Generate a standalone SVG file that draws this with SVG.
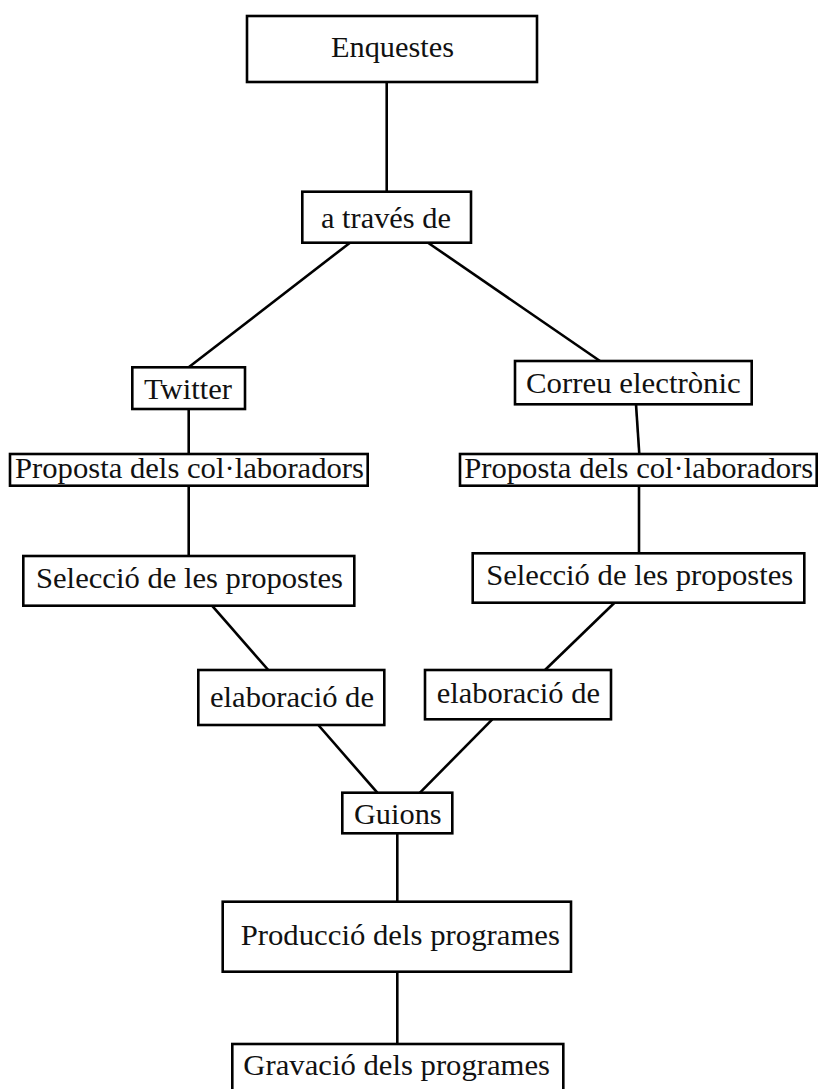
<svg xmlns="http://www.w3.org/2000/svg" width="818" height="1089" viewBox="0 0 818 1089">
<style>
  .box { fill: #fff; stroke: #000; stroke-width: 2.6; }
  .lbl { font-family: "Liberation Serif", "Times New Roman", serif; font-size: 30px; fill: #111; text-anchor: middle; }
  .con line { stroke: #000; stroke-width: 2.6; }
</style>
<rect width="818" height="1089" fill="#fff"/>
<g class="con" id="connectors">
  <line x1="386.7" y1="82" x2="386.7" y2="192"/>
  <line x1="350" y1="242.7" x2="189" y2="367"/>
  <line x1="428" y1="242.7" x2="600" y2="361"/>
  <line x1="188.7" y1="409" x2="188.7" y2="454"/>
  <line x1="636" y1="404.3" x2="639.3" y2="454"/>
  <line x1="188.7" y1="485.7" x2="188.7" y2="556"/>
  <line x1="639" y1="485.7" x2="639" y2="553.3"/>
  <line x1="212" y1="605.7" x2="268.3" y2="670"/>
  <line x1="614.5" y1="602.7" x2="545" y2="670"/>
  <line x1="318.3" y1="725" x2="377.3" y2="792.7"/>
  <line x1="492.3" y1="719.3" x2="420" y2="792.7"/>
  <line x1="397.3" y1="833.3" x2="397.3" y2="901.7"/>
  <line x1="397.3" y1="971.7" x2="397.3" y2="1044"/>
</g>
<g id="n-enquestes">
  <rect class="box" x="247" y="16" width="290" height="66"/>
  <text class="lbl" x="392.5" y="57" textLength="123" lengthAdjust="spacingAndGlyphs">Enquestes</text>
</g>
<g id="n-atraves">
  <rect class="box" x="302.3" y="191.7" width="168.7" height="51"/>
  <text class="lbl" x="386" y="227.7" textLength="130" lengthAdjust="spacingAndGlyphs">a través de</text>
</g>
<g id="n-twitter">
  <rect class="box" x="132.3" y="367.3" width="112.7" height="41.7"/>
  <text class="lbl" x="188" y="399.3" textLength="88" lengthAdjust="spacingAndGlyphs">Twitter</text>
</g>
<g id="n-correu">
  <rect class="box" x="515" y="361" width="236.7" height="43.3"/>
  <text class="lbl" x="633.4" y="393.3" textLength="214.7" lengthAdjust="spacingAndGlyphs">Correu electrònic</text>
</g>
<g id="n-proposta-l">
  <rect class="box" x="10" y="454" width="357.7" height="31.7"/>
  <text class="lbl" x="189.5" y="477.7" textLength="349" lengthAdjust="spacingAndGlyphs">Proposta dels col·laboradors</text>
</g>
<g id="n-proposta-r">
  <rect class="box" x="460" y="454" width="356.7" height="31.7"/>
  <text class="lbl" x="638.7" y="477.7" textLength="349" lengthAdjust="spacingAndGlyphs">Proposta dels col·laboradors</text>
</g>
<g id="n-seleccio-l">
  <rect class="box" x="23.3" y="556" width="331" height="49.7"/>
  <text class="lbl" x="189.5" y="588.3" textLength="307" lengthAdjust="spacingAndGlyphs">Selecció de les propostes</text>
</g>
<g id="n-seleccio-r">
  <rect class="box" x="472.7" y="553.3" width="331.6" height="49.4"/>
  <text class="lbl" x="639.7" y="585" textLength="307" lengthAdjust="spacingAndGlyphs">Selecció de les propostes</text>
</g>
<g id="n-elab-l">
  <rect class="box" x="198.3" y="670" width="186" height="55"/>
  <text class="lbl" x="292" y="707.3" textLength="164" lengthAdjust="spacingAndGlyphs">elaboració de</text>
</g>
<g id="n-elab-r">
  <rect class="box" x="425" y="670" width="186" height="49.3"/>
  <text class="lbl" x="518.3" y="702.7" textLength="163.3" lengthAdjust="spacingAndGlyphs">elaboració de</text>
</g>
<g id="n-guions">
  <rect class="box" x="342.3" y="792.7" width="110" height="40.6"/>
  <text class="lbl" x="397.8" y="824" textLength="87.7" lengthAdjust="spacingAndGlyphs">Guions</text>
</g>
<g id="n-produccio">
  <rect class="box" x="222.7" y="901.7" width="348.3" height="70"/>
  <text class="lbl" x="400.3" y="945" textLength="319.3" lengthAdjust="spacingAndGlyphs">Producció dels programes</text>
</g>
<g id="n-gravacio">
  <rect class="box" x="232.3" y="1044" width="331" height="50"/>
  <text class="lbl" x="396.7" y="1075" textLength="306.7" lengthAdjust="spacingAndGlyphs">Gravació dels programes</text>
</g>
</svg>
